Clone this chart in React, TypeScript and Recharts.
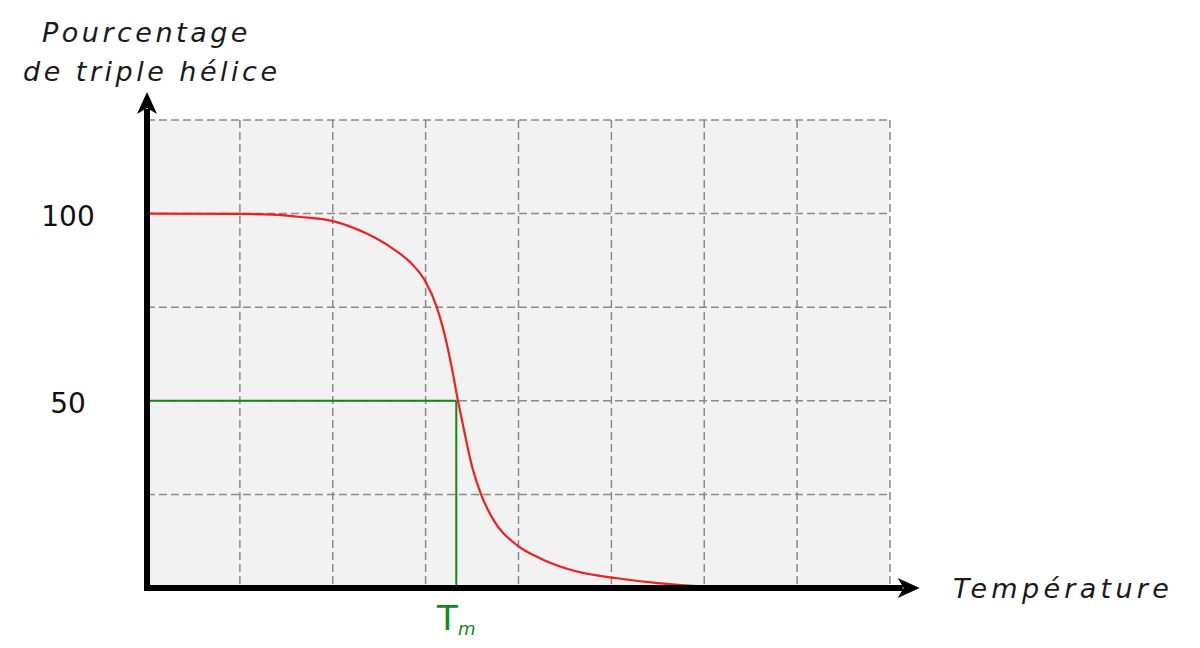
import { CartesianGrid, Label, Line, LineChart, ReferenceLine, XAxis, YAxis } from "recharts";

// temperature in grid units, helix percentage
const temps = [0, 1, 1.35, 1.65, 2, 2.37, 2.65, 2.87, 3, 3.12, 3.23, 3.3, 3.35, 3.39, 3.51, 3.6, 3.73, 3.98, 4.27, 4.63, 5.06, 5.5, 6, 6.5, 7, 8];
const helix = [100, 99.9, 99.7, 99.1, 98, 94.6, 90.6, 86.1, 81.8, 75, 65, 56.5, 49.8, 45, 31.5, 24.8, 18.2, 11.5, 7.5, 4.4, 2.6, 1.3, 0.4, 0.1, 0, 0];

const tm = 3.33;
const yTicks = [50, 100];
const gridY = [25, 50, 75, 100, 125];
const gridX = [1, 2, 3, 4, 5, 6, 7, 8];

const data = temps.map((t, i) => ({ t, p: helix[i] }));

const font = "'DejaVu Sans', sans-serif";
const green = "#128a12";

function ArrowAxis(props: any) {
  const { x1, y1, x2, y2 } = props;
  const vertical = Math.abs(x1 - x2) < 1;
  if (vertical) {
    const head = `M${x2},${y2} L${x2 + 10},${y2 + 22} L${x2},${y2 + 16} L${x2 - 10},${y2 + 22} Z`;
    return (
      <g>
        <line x1={x1} y1={y1 + 3} x2={x2} y2={y2 + 17} stroke="#000" strokeWidth={6} />
        <path d={head} fill="#000" />
      </g>
    );
  }
  const head = `M${x2},${y2} L${x2 - 22},${y2 - 10} L${x2 - 16},${y2} L${x2 - 22},${y2 + 10} Z`;
  return (
    <g>
      <line x1={x1 - 3} y1={y1} x2={x2 - 17} y2={y2} stroke="#000" strokeWidth={6} />
      <path d={head} fill="#000" />
    </g>
  );
}

function YTick({ y, payload }: any) {
  return (
    <text x={68} y={y + 2} dy="0.36em" textAnchor="middle" fontFamily={font} fontSize={28} fill="#111">
      {payload.value}
    </text>
  );
}

function TmTick({ x }: any) {
  return (
    <text x={x} y={630} textAnchor="middle" fontFamily={font} fill={green}>
      <tspan fontSize={34}>T</tspan>
      <tspan fontSize={18} fontStyle="italic" dy={5}>m</tspan>
    </text>
  );
}

const titleStyle = {
  fontFamily: font,
  fontStyle: "italic",
  fontSize: 27,
  letterSpacing: 3.5,
  fill: "#1a1a1a",
};

export default function App() {
  return (
    <div style={{ position: "absolute", left: 0, top: 0, width: 1200, height: 648, background: "#fff" }}>
      <LineChart width={1200} height={648} data={data} margin={{ top: 120, right: 310, bottom: 0, left: 0 }}>
        <CartesianGrid
          fill="#f2f2f2"
          fillOpacity={1}
          stroke="#8a8a8a"
          strokeWidth={1.5}
          strokeDasharray="8 4"
          horizontalValues={gridY}
          verticalValues={gridX}
        />
        <XAxis
          type="number"
          dataKey="t"
          domain={[0, 8]}
          ticks={[tm]}
          height={60}
          axisLine={false}
          tickLine={false}
          tick={<TmTick />}
          allowDataOverflow
        >
          <Label
            content={() => (
              <text x={953} y={598} style={{ ...titleStyle, letterSpacing: 4.3 }}>
                Température
              </text>
            )}
          />
        </XAxis>
        <YAxis
          type="number"
          domain={[0, 125]}
          ticks={yTicks}
          width={147}
          axisLine={false}
          tickLine={false}
          tick={<YTick />}
          allowDataOverflow
        >
          <Label
            content={() => (
              <text style={titleStyle}>
                <tspan x={42} y={42}>Pourcentage</tspan>
                <tspan x={23} y={81}>de triple hélice</tspan>
              </text>
            )}
          />
        </YAxis>
        <ReferenceLine segment={[{ x: 0, y: 50 }, { x: tm, y: 50 }]} stroke={green} strokeWidth={2} ifOverflow="visible" />
        <ReferenceLine segment={[{ x: tm, y: 50 }, { x: tm, y: 0 }]} stroke={green} strokeWidth={2} ifOverflow="visible" />
        <Line
          type="monotone"
          dataKey="p"
          stroke="#f01e1e"
          strokeWidth={2.2}
          dot={false}
          activeDot={false}
          isAnimationActive={false}
        />
        <ReferenceLine segment={[{ x: 0, y: 0 }, { x: 0, y: 132.5 }]} shape={<ArrowAxis />} ifOverflow="visible" />
        <ReferenceLine segment={[{ x: 0, y: 0 }, { x: 8.32, y: 0 }]} shape={<ArrowAxis />} ifOverflow="visible" />
      </LineChart>
    </div>
  );
}
